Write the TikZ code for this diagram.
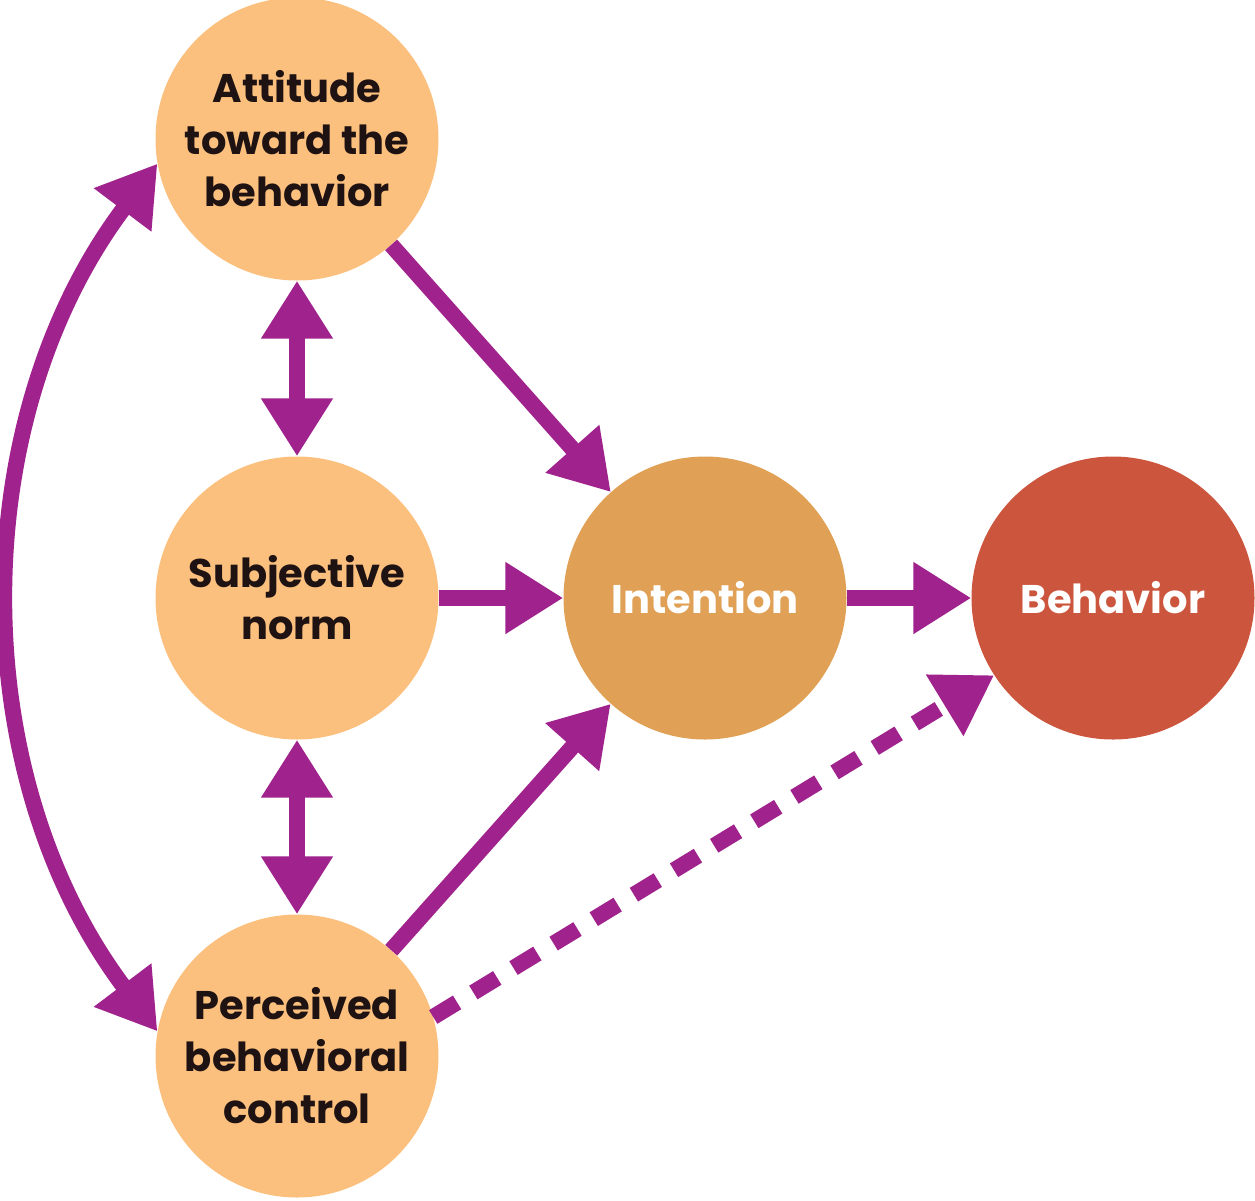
\documentclass[tikz,border=0pt]{standalone}
\usepackage{fontspec}
\setmainfont{Poppins}[BoldFont={* Bold}]
\usetikzlibrary{arrows.meta}
\definecolor{lightor}{HTML}{FCC07E}
\definecolor{intor}{HTML}{E0A156}
\definecolor{behred}{HTML}{CC563D}
\definecolor{purp}{HTML}{A0228C}
\definecolor{txt}{HTML}{1E1212}
\tikzset{
  circ/.style={circle, minimum size=283pt, inner sep=0pt, align=center,
    font=\bfseries\fontsize{40}{52}\selectfont, text=txt},
  lightc/.style={circ, fill=lightor},
  conn/.style={draw=purp, line width=16pt,
    -{Triangle[length=58pt,width=68pt]}},
  dconn/.style={conn, {Triangle[length=58pt,width=68pt]}-{Triangle[length=58pt,width=68pt]}},
  dashconn/.style={conn, dash pattern=on 28pt off 19pt},
}
\begin{document}
\begin{tikzpicture}[x=1pt,y=-1pt]
\useasboundingbox (0,0) rectangle (1255,1200);
\node[lightc] (a) at (297,139) {Attitude\\toward the\\behavior};
\node[lightc] (s) at (297,598) {Subjective\\norm};
\node[lightc] (p) at (297,1056) {Perceived\\behavioral\\control};
\node[circ, fill=intor, text=white] (i) at (705,598) {Intention};
\node[circ, fill=behred, text=white] (b) at (1113,598) {Behavior};
\draw[dconn] (a) -- (s);
\draw[dconn] (s) -- (p);
\draw[conn] (a) -- (i);
\draw[conn] (s) -- (i);
\draw[conn] (p) -- (i);
\draw[conn] (i) -- (b);
\draw[dashconn] (p.16) -- (b.213);
\draw[dconn] (a.190) to[out=233,in=127,looseness=0.95] (p.170);
\end{tikzpicture}
\end{document}
